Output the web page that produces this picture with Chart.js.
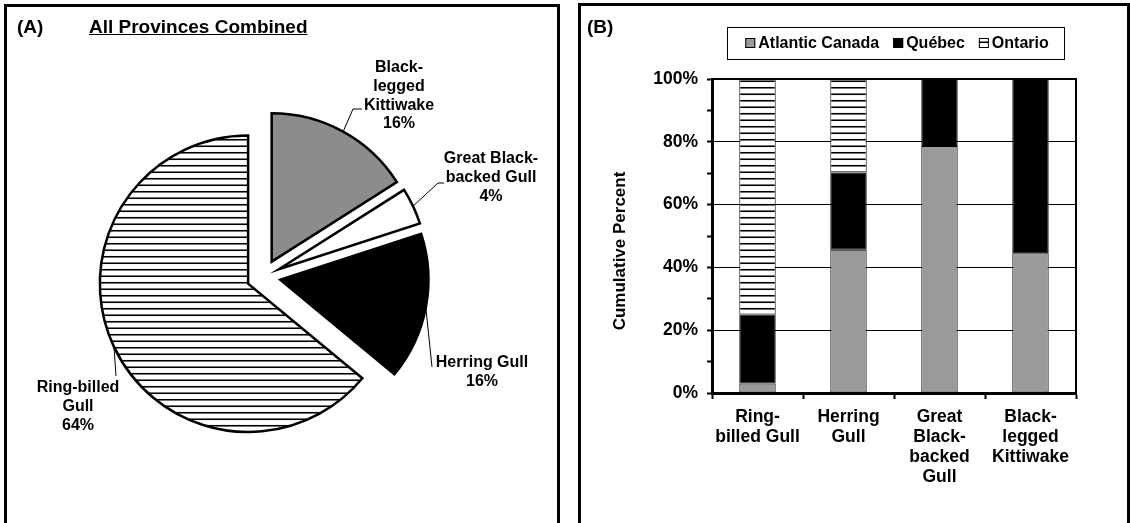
<!DOCTYPE html>
<html>
<head>
<meta charset="utf-8">
<script src="https://cdn.jsdelivr.net/npm/chart.js@4.4.1/dist/chart.umd.min.js"></script>
<style>
  html, body { margin: 0; padding: 0; background: #fff; overflow: hidden; }
  body { width: 1130px; height: 523px; position: relative; font-family: "Liberation Sans", Arial, Helvetica, sans-serif; }
  .panel { position: absolute; border: 3px solid #000; box-sizing: border-box; }
  #panelA { left: 4px; top: 4px; width: 556px; height: 522px; }
  #panelB { left: 578px; top: 3px; width: 552px; height: 523px; }
  canvas { position: absolute; }
  #pieCanvas { left: 0; top: 0; }
  #barCanvas { left: 580px; top: 0; }
  .ptitle { position: absolute; font-weight: bold; font-size: 19px; line-height: 19px; color: #000; white-space: nowrap; }
</style>
</head>
<body>
<div class="panel" id="panelA"></div>
<div class="panel" id="panelB"></div>
<canvas id="pieCanvas" width="560" height="523"></canvas>
<canvas id="barCanvas" width="550" height="523"></canvas>
<div class="ptitle" style="left:17px; top:17px;">(A)</div>
<div class="ptitle" style="left:89px; top:17px; text-decoration: underline;">All Provinces Combined</div>
<div class="ptitle" style="left:587px; top:17px;">(B)</div>
<script>
// Pie data (panel A)
const pieLabels = ['Black-legged Kittiwake', 'Great Black-backed Gull', 'Herring Gull', 'Ring-billed Gull'];
const pieLabelText = [['Black-', 'legged', 'Kittiwake'], ['Great Black-', 'backed Gull'], ['Herring Gull'], ['Ring-billed', 'Gull']];
const pieValues = [16, 4, 16, 64];

// Stacked bar data (panel B)
const barCategories = [['Ring-', 'billed Gull'], ['Herring', 'Gull'], ['Great', 'Black-', 'backed', 'Gull'], ['Black-', 'legged', 'Kittiwake']];
const seriesNames = ['Atlantic Canada', 'Québec', 'Ontario'];
const atlanticValues = [3, 45.6, 78.7, 44.5];
const quebecValues = [22, 24.6, 21.3, 55.5];
const ontarioValues = [75, 29.8, 0, 0];
const yTickStep = 20;

const FONT = '"Liberation Sans", Arial, Helvetica, sans-serif';
Chart.defaults.font.family = FONT;
Chart.defaults.color = '#000';

// horizontal line hatch used for Ring-billed / Ontario
function makeHatch() {
    const c = document.createElement('canvas');
    c.width = 8;
    c.height = 13;
    const g = c.getContext('2d');
    g.fillStyle = '#fff';
    g.fillRect(0, 0, 8, 13);
    g.strokeStyle = '#000';
    g.lineWidth = 1.6;
    [3.25, 9.75].forEach(y => {
        g.beginPath();
        g.moveTo(0, y);
        g.lineTo(8, y);
        g.stroke();
    });
    return document.getElementById('pieCanvas').getContext('2d').createPattern(c, 'repeat');
}
const hatch = makeHatch();

// label placement for the pie (text centre x, first baseline, leader line points)
const EXPLODE = 17;
const PIE_LINE = 18.8;
const pieLabelLayout = [
    { x: 399, y: 72, path: [[353, 109], [362, 109]] },
    { x: 491, y: 163, path: [[438, 183], [444, 183]] },
    { x: 482, y: 367, path: [[432, 367]] },
    { x: 78, y: 392, path: [[116, 376]] }
];

// push every slice away from the centre along its middle angle
const explodePlugin = {
    id: 'explode',
    afterDatasetsUpdate(chart) {
        const a = chart.chartArea;
        const cx = (a.left + a.right) / 2;
        const cy = (a.top + a.bottom) / 2;
        chart.getDatasetMeta(0).data.forEach(arc => {
            const mid = (arc.startAngle + arc.endAngle) / 2;
            arc.x = cx + Math.cos(mid) * EXPLODE;
            arc.y = cy + Math.sin(mid) * EXPLODE;
        });
    }
};

const pieLabelPlugin = {
    id: 'pieLabels',
    afterDraw(chart) {
        const ctx = chart.ctx;
        const arcs = chart.getDatasetMeta(0).data;
        ctx.save();
        ctx.font = 'bold 16px ' + FONT;
        ctx.textAlign = 'center';
        ctx.textBaseline = 'alphabetic';
        ctx.fillStyle = '#000';
        ctx.strokeStyle = '#000';
        ctx.lineWidth = 1;
        arcs.forEach((arc, i) => {
            const lay = pieLabelLayout[i];
            const mid = (arc.startAngle + arc.endAngle) / 2;
            ctx.beginPath();
            ctx.moveTo(arc.x + Math.cos(mid) * arc.outerRadius, arc.y + Math.sin(mid) * arc.outerRadius);
            lay.path.forEach(p => ctx.lineTo(p[0], p[1]));
            ctx.stroke();
            const lines = pieLabelText[i].concat([pieValues[i] + '%']);
            lines.forEach((t, k) => ctx.fillText(t, lay.x, lay.y + k * PIE_LINE));
        });
        ctx.restore();
    }
};

new Chart(document.getElementById('pieCanvas'), {
    type: 'pie',
    data: {
        labels: pieLabels,
        datasets: [{
            data: pieValues,
            backgroundColor: ['#8c8c8c', '#ffffff', '#000000', hatch],
            borderColor: '#000',
            borderWidth: 2.5,
            hoverBorderWidth: 2.5,
            borderJoinStyle: 'miter',
            hoverOffset: 0
        }]
    },
    options: {
        responsive: false,
        animation: false,
        devicePixelRatio: 1,
        events: [],
        layout: { padding: { left: 114, right: 147, top: 127, bottom: 97 } },
        plugins: {
            legend: { display: false },
            tooltip: { enabled: false }
        }
    },
    plugins: [explodePlugin, pieLabelPlugin]
});

// panel B extras: framed legend, y title, plot frame
const boxLegend = {
    id: 'boxLegend',
    afterDraw(chart) {
        const ctx = chart.ctx;
        const sets = chart.data.datasets;
        const a = chart.chartArea;
        ctx.save();
        ctx.font = 'bold 16px ' + FONT;
        const sw = 10, gap = 3, itemGap = 14;
        const widths = sets.map(d => sw + gap + ctx.measureText(d.label).width);
        const total = widths.reduce((s, w) => s + w, 0) + itemGap * (sets.length - 1);
        const cx = (a.left + a.right) / 2 + 3;
        ctx.strokeStyle = '#000';
        ctx.lineWidth = 1;
        ctx.strokeRect(Math.round(cx - total / 2 - 18) + 0.5, 27.5, Math.round(total + 34), 32);
        let x = cx - total / 2;
        ctx.textBaseline = 'middle';
        ctx.textAlign = 'left';
        sets.forEach((d, i) => {
            ctx.fillStyle = d.backgroundColor;
            ctx.fillRect(x, 38, sw, sw);
            ctx.strokeRect(x + 0.5, 38.5, sw - 1, sw - 1);
            ctx.fillStyle = '#000';
            ctx.fillText(d.label, x + sw + gap, 44);
            x += widths[i] + itemGap;
        });
        // y axis title
        ctx.font = 'bold 17px ' + FONT;
        ctx.textAlign = 'center';
        ctx.translate(40, 251);
        ctx.rotate(-Math.PI / 2);
        ctx.fillText('Cumulative Percent', 0, 0);
        ctx.restore();
    },
    afterDatasetsDraw(chart) {
        const ctx = chart.ctx;
        const a = chart.chartArea;
        ctx.save();
        ctx.strokeStyle = '#000';
        ctx.lineWidth = 2;
        ctx.beginPath();
        ctx.moveTo(a.left, a.top);
        ctx.lineTo(a.right, a.top);
        ctx.lineTo(a.right, a.bottom);
        ctx.stroke();
        ctx.restore();
    }
};

const tickFont = { size: 17.5, weight: 'bold', lineHeight: 1.15 };

new Chart(document.getElementById('barCanvas'), {
    type: 'bar',
    data: {
        labels: barCategories,
        datasets: [
            { label: seriesNames[0], data: atlanticValues, backgroundColor: '#9a9a9a' },
            { label: seriesNames[1], data: quebecValues, backgroundColor: '#000000' },
            { label: seriesNames[2], data: ontarioValues, backgroundColor: hatch }
        ]
    },
    options: {
        responsive: false,
        animation: false,
        devicePixelRatio: 1,
        events: [],
        datasets: {
            bar: {
                borderColor: '#000',
                borderWidth: 1,
                borderSkipped: false,
                categoryPercentage: 1,
                barPercentage: 0.4
            }
        },
        layout: { padding: { left: 0, top: 79, right: 54, bottom: 0 } },
        scales: {
            x: {
                stacked: true,
                afterFit: s => { s.height = 130; },
                grid: { display: true, offset: true, drawOnChartArea: false, tickLength: 6, tickColor: '#000', tickWidth: 2 },
                border: { display: true, color: '#000', width: 3 },
                ticks: { font: tickFont, color: '#000', padding: 8, maxRotation: 0, autoSkip: false }
            },
            y: {
                stacked: true,
                min: 0,
                max: 100,
                afterFit: s => { s.width = 132; },
                grid: {
                    color: c => (c.tick && c.tick.value % yTickStep === 0) ? '#000' : 'rgba(0,0,0,0)',
                    lineWidth: 1,
                    tickColor: '#000',
                    tickLength: 5,
                    tickWidth: 2
                },
                border: { display: true, color: '#000', width: 3 },
                ticks: {
                    stepSize: 5,
                    font: tickFont,
                    color: '#000',
                    padding: 9,
                    callback: v => (v % yTickStep === 0) ? v + '%' : ''
                }
            }
        },
        plugins: {
            legend: { display: false },
            tooltip: { enabled: false }
        }
    },
    plugins: [boxLegend]
});
</script>
</body>
</html>
